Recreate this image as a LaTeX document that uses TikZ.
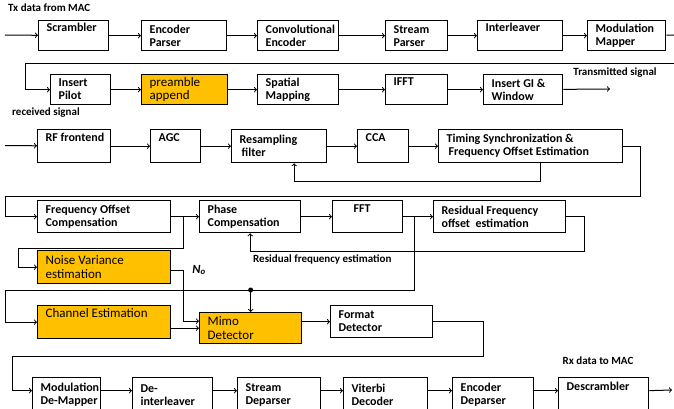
\documentclass[tikz,border=0pt]{standalone}
\usepackage{fontspec}
\setmainfont{Carlito}
\usetikzlibrary{arrows,positioning,calc}
\definecolor{Gold}{RGB}{255,192,0}
\tikzstyle{blk} = [draw, line width=1.3pt, anchor=north west, align=flush left,
  inner xsep=8pt, inner ysep=0pt, minimum height=30pt,
  execute at begin node={\hyphenpenalty=10000 \exhyphenpenalty=10000 },
  font=\fontsize{12}{13}\selectfont\bfseries]
\tikzstyle{gold} = [blk, fill=Gold, font=\fontsize{13}{13.5}\selectfont]
\tikzstyle{lbl} = [inner sep=0pt, font=\fontsize{11}{12}\selectfont\bfseries]
\tikzstyle{wire} = [->, line width=1pt]

\begin{document}
\begin{tikzpicture}[x=1pt, y=-1pt, >=to]
    \useasboundingbox (0,0) rectangle (674,409);

    % transmitter
    \node[blk, text width=54pt]  (scr)   at (38,20)  {Scrambler\\\strut};
    \node[blk, text width=69pt]  (encp)  at (141,20) {Encoder\\Parser};
    \node[blk, text width=65pt]  (conv)  at (257,20) {Convolutional\\Encoder};
    \node[blk, text width=46pt]  (strp)  at (385,20) {Stream\\Parser};
    \node[blk, text width=69pt]  (intl)  at (477,20) {Interleaver\\\strut};
    \node[blk, text width=62pt]  (modm)  at (587,20) {Modulation\\Mapper};

    \node[blk, text width=44pt]  (pilot) at (50,74)  {Insert\\Pilot};
    \node[gold, text width=70pt] (pre)   at (141,74) {preamble\\append};
    \node[blk, text width=65pt]  (spm)   at (257,74) {Spatial\\Mapping};
    \node[blk, text width=46pt]  (ifft)  at (385,74) {IFFT\\\strut};
    \node[blk, text width=63pt]  (gi)    at (483,74) {Insert GI \&\\Window};

    % receiver
    \node[blk, text width=57pt, minimum height=33pt]  (rf)  at (37,129)  {\mbox{RF frontend}\\\strut};
    \node[blk, text width=34pt, minimum height=33pt]  (agc) at (150,129) {AGC\\\strut};
    \node[blk, text width=79pt, minimum height=33pt]  (res) at (231,129) {Resampling\\\hspace*{2pt}filter};
    \node[blk, text width=168pt, minimum height=33pt] (tim) at (438,129) {Timing Synchronization \&\\\hspace*{2pt}Frequency Offset Estimation};
    \node[blk, text width=35pt, minimum height=33pt]  (cca) at (357,129) {CCA\\\strut};

    \node[blk, text width=117pt, minimum height=32pt] (foc) at (37,200)  {Frequency Offset\\Compensation};
    \node[blk, text width=85pt, minimum height=32pt]  (phc) at (199,200) {Phase\\Compensation};
    \node[blk, text width=54pt, minimum height=32pt]  (fft) at (332,200) {\hspace*{13pt}FFT\\\strut};
    \node[blk, text width=116pt, minimum height=32pt] (rfo) at (433,200) {Residual Frequency\\offset\ \ estimation};

    \node[gold, text width=117pt, minimum height=33pt] (noise) at (37,250)  {Noise Variance\\estimation};
    \node[gold, text width=117pt, minimum height=33pt] (chan)  at (37,305)  {Channel Estimation\\\strut};
    \node[gold, text width=86pt, minimum height=31pt]  (mimo)  at (199,312) {Mimo\\Detector};
    \node[blk, text width=86pt, minimum height=32pt]   (fmt)   at (330,305) {Format\\Detector};

    \node[blk, text width=52pt, minimum height=34pt] (dmap) at (32,377)  {Modulation\\De-Mapper};
    \node[blk, text width=64pt, minimum height=34pt] (dint) at (132,377) {De-\\interleaver};
    \node[blk, text width=67pt, minimum height=34pt] (sdp)  at (237,377) {Stream\\Deparser};
    \node[blk, text width=68pt, minimum height=34pt] (vit)  at (343,377) {Viterbi\\Decoder};
    \node[blk, text width=65pt, minimum height=34pt] (edp)  at (452,377) {Encoder\\Deparser};
    \node[blk, text width=74pt, minimum height=34pt] (dscr) at (558,377) {Descrambler\\\strut};

    % labels
    \node[lbl, anchor=west] (txmac) at (8,8)     {Tx data from MAC};
    \node[lbl]              (txsig) at (615,73)  {Transmitted signal};
    \node[lbl, anchor=west] (rxsig) at (12,113)  {received signal};
    \node[lbl, anchor=north west] (resfb) at (253,255) {Residual frequency estimation};
    \node[lbl, font=\fontsize{12.5}{13}\selectfont\bfseries\itshape] (nzero) at (199,270) {N\textsubscript{o}};
    \node[lbl]              (rxmac) at (598,361) {Rx data to MAC};

    \coordinate (txin) at (5,35);
    \coordinate (r1e)  at (674,35);
    \coordinate (w1)   at (674,64);
    \coordinate (txo)  at (610,89);
    \coordinate (rxin) at (5,145.5);
    \coordinate (w3)   at (640,196);
    \coordinate (w3b)  at (5,196);
    \coordinate (w5)   at (5,290);
    \coordinate (w6)   at (483,356);
    \coordinate (w6b)  at (12,356);
    \coordinate (rxo)  at (672,390);

    \draw [wire] (txin) -- (scr);
    \draw [wire] (scr) -- (encp);
    \draw [wire] (encp) -- (conv);
    \draw [wire] (conv) -- (strp);
    \draw [wire] (strp) -- (intl);
    \draw [wire] (intl) -- (modm);
    \draw [line width=1pt] (modm) -- (r1e);
    \draw [wire] (w1) -| ([xshift=-25pt]pilot.west) -- (pilot.west);
    \draw [wire] (pilot) -- (pre);
    \draw [wire] (pre) -- (spm);
    \draw [wire] (spm) -- (ifft);
    \draw [wire] (ifft) -- (gi);
    \draw [wire] (gi) -- (txo);

    \draw [wire] (rxin) -- (rf);
    \draw [wire] (rf) -- (agc);
    \draw [wire] (agc) -- (res);
    \draw [wire] (res) -- (cca);
    \draw [wire] (cca) -- (tim);
    \draw [wire] ([xshift=10pt]tim.south) -- ++(0,18) -| ([xshift=15pt]res.south);
    \draw [wire] (tim.east) -| (w3) -- (w3b) |- (foc);

    \draw [wire] (foc) -- (phc);
    \draw [wire] ([xshift=12pt]foc.east) -- ++(0,32) -| ([xshift=-19pt]noise.west) -- (noise.west);
    \draw [wire] (phc) -- (fft);
    \draw [wire] (fft) -- (rfo);
    \draw [wire] (rfo.east) -| ([xshift=18pt, yshift=-18pt]rfo.south east) -| (phc.south);
    \draw [wire] ([xshift=11pt]fft.east) |- (w5) |- (chan);
    \fill (mimo.north |- w5) coordinate (tap) circle (2.5pt);
    \draw [wire] (tap) -- (mimo);
    \draw [wire] ([yshift=-3.5pt]noise.east) -- ++(12,0) |- ([yshift=7pt]mimo.west);
    \draw [wire] (chan.east |- mimo.west) -- (mimo.west);
    \draw [wire] (mimo.east |- fmt.west) -- (fmt.west);
    \draw [wire] (fmt.east) -| (w6) -- (w6b) |- ([yshift=4pt]dmap.west);

    \draw [wire] ([yshift=4pt]dmap.east) -- ([yshift=4pt]dint.west);
    \draw [wire] ([yshift=4pt]dint.east) -- ([yshift=4pt]sdp.west);
    \draw [wire] ([yshift=4pt]sdp.east) -- ([yshift=4pt]vit.west);
    \draw [wire] ([yshift=4pt]vit.east) -- ([yshift=4pt]edp.west);
    \draw [wire] ([yshift=4pt]edp.east) -- ([yshift=4pt]dscr.west);
    \draw [wire] ([yshift=4pt]dscr.east) -- (rxo);
\end{tikzpicture}
\end{document}
